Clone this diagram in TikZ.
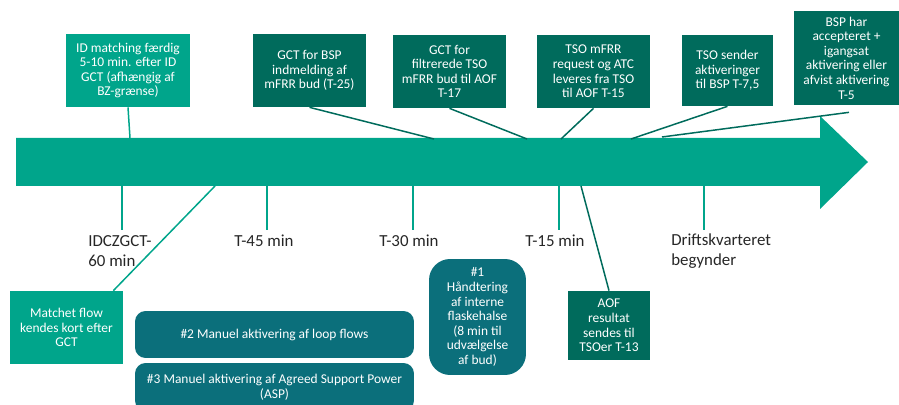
\documentclass[tikz,border=0pt]{standalone}
\usepackage{fontspec}
\setmainfont{Carlito}
\usepackage{tikz}
\usetikzlibrary{positioning}
\definecolor{lightteal}{HTML}{00A58B}
\definecolor{darkteal}{HTML}{006B5C}
\definecolor{petrol}{HTML}{0B6F7B}
\tikzset{
x=0.02cm, y=-0.02cm, % one unit is one pixel of the timeline, y runs downwards
box/.style={text=white, align=center, inner sep=1pt, font=\fontsize{7.65}{8.3}\selectfont}, % common look of every box
lightbox/.style={box, fill=lightteal}, % light green boxes
darkbox/.style={box, fill=darkteal}, % dark green boxes
roundbox/.style={box, fill=petrol, rounded corners=6pt}, % the blue actions
link/.style={draw=darkteal, line width=0.85pt}, % lines from boxes to the arrow
tick/.style={draw=lightteal, line width=0.6pt}, % marks under the arrow
timelabel/.style={text=black!85, inner sep=0pt, align=left, font=\fontsize{9.6}{11.4}\selectfont}, % times under the arrow
}

\begin{document}
\begin{tikzpicture}
    \path[use as bounding box, clip] (0,0) rectangle (899,405);
    % the timeline
    \fill[lightteal] (16,138) -- (820,138) -- (820,116) -- (868,162) -- (820,209) -- (820,186) -- (16,186) -- cycle;
    % boxes above
    \node[lightbox, minimum width=2.48cm, minimum height=1.46cm] (idmatch) at (128,70.5) {ID matching færdig\\5-10 min. efter ID\\GCT (afhængig af\\BZ-grænse)};
    \node[darkbox, minimum width=2.26cm, minimum height=1.46cm] (gctbsp) at (309.5,70.5) {GCT for BSP\\indmelding af\\mFRR bud (T-25)};
    \node[darkbox, minimum width=2.26cm, minimum height=1.46cm] (gctfilt) at (449.5,71.5) {GCT for\\filtrerede TSO\\mFRR bud til AOF\\T-17};
    \node[darkbox, minimum width=2.26cm, minimum height=1.46cm] (tsomfrr) at (593.5,71.5) {TSO mFRR\\request og ATC\\leveres fra TSO\\til AOF T-15};
    \node[darkbox, minimum width=1.82cm, minimum height=1.42cm] (tsosend) at (727.5,70.5) {TSO sender\\aktiveringer\\til BSP T-7,5};
    \node[darkbox, minimum width=2.10cm, minimum height=1.88cm] (bsphar) at (846.5,58) {BSP har\\accepteret +\\igangsat\\aktivering eller\\afvist aktivering\\T-5};
    % boxes below
    \node[lightbox, minimum width=2.26cm, minimum height=1.46cm] (matchet) at (66.5,327.5) {Matchet flow\\kendes kort efter\\GCT};
    \node[darkbox, minimum width=1.64cm, minimum height=1.38cm] (aof) at (609,325.5) {AOF\\resultat\\sendes til\\TSOer T-13};
    \node[roundbox, rounded corners=12pt, minimum width=1.94cm, minimum height=2.32cm] (haand) at (477.5,317) {\#1\\Håndtering\\af interne\\flaskehalse\\(8 min til\\udvælgelse\\af bud)};
    \node[roundbox, minimum width=5.58cm, minimum height=0.94cm] (loop) at (274.5,334.5) {\#2 Manuel aktivering af loop flows};
    \node[roundbox, minimum width=5.58cm, minimum height=0.96cm] (asp) at (274.5,387) {\#3 Manuel aktivering af Agreed Support Power\\(ASP)};
    % times
    \node[timelabel, anchor=west] (t60) at (88,251) {IDCZGCT-\\60 min};
    \node[timelabel] (t45) at (264,241) {T-45 min};
    \node[timelabel] (t30) at (409,241) {T-30 min};
    \node[timelabel] (t15) at (555,241) {T-15 min};
    \node[timelabel, anchor=west] (t0) at (671,251) {Driftskvarteret\\begynder};
    % points on the arrow
    \coordinate (a1) at (130,138);
    \coordinate (a2) at (434,139);
    \coordinate (a3) at (527,139);
    \coordinate (a4) at (561,139);
    \coordinate (a5) at (631,139);
    \coordinate (a6) at (662,137);
    \coordinate (b1) at (215,186);
    \coordinate (b2) at (581,186);
    \draw[link, draw=lightteal] (idmatch.south) -- (a1);
    \draw[link] (gctbsp.south) -- (a2);
    \draw[link] (gctfilt.south) -- (a3);
    \draw[link] (tsomfrr.south) -- (a4);
    \draw[link] (tsosend.south) -- (a5);
    \draw[link] ([xshift=0.05cm, yshift=-0.14cm]bsphar.south) -- (a6);
    \draw[link, draw=lightteal] (b1) -- ([xshift=-0.2cm]matchet.north east);
    \draw[link] (b2) -- (aof.north);
    \foreach \x in {122, 267, 413, 559, 704}
        \draw[tick] (\x,186) -- (\x,230);
\end{tikzpicture}
\end{document}
